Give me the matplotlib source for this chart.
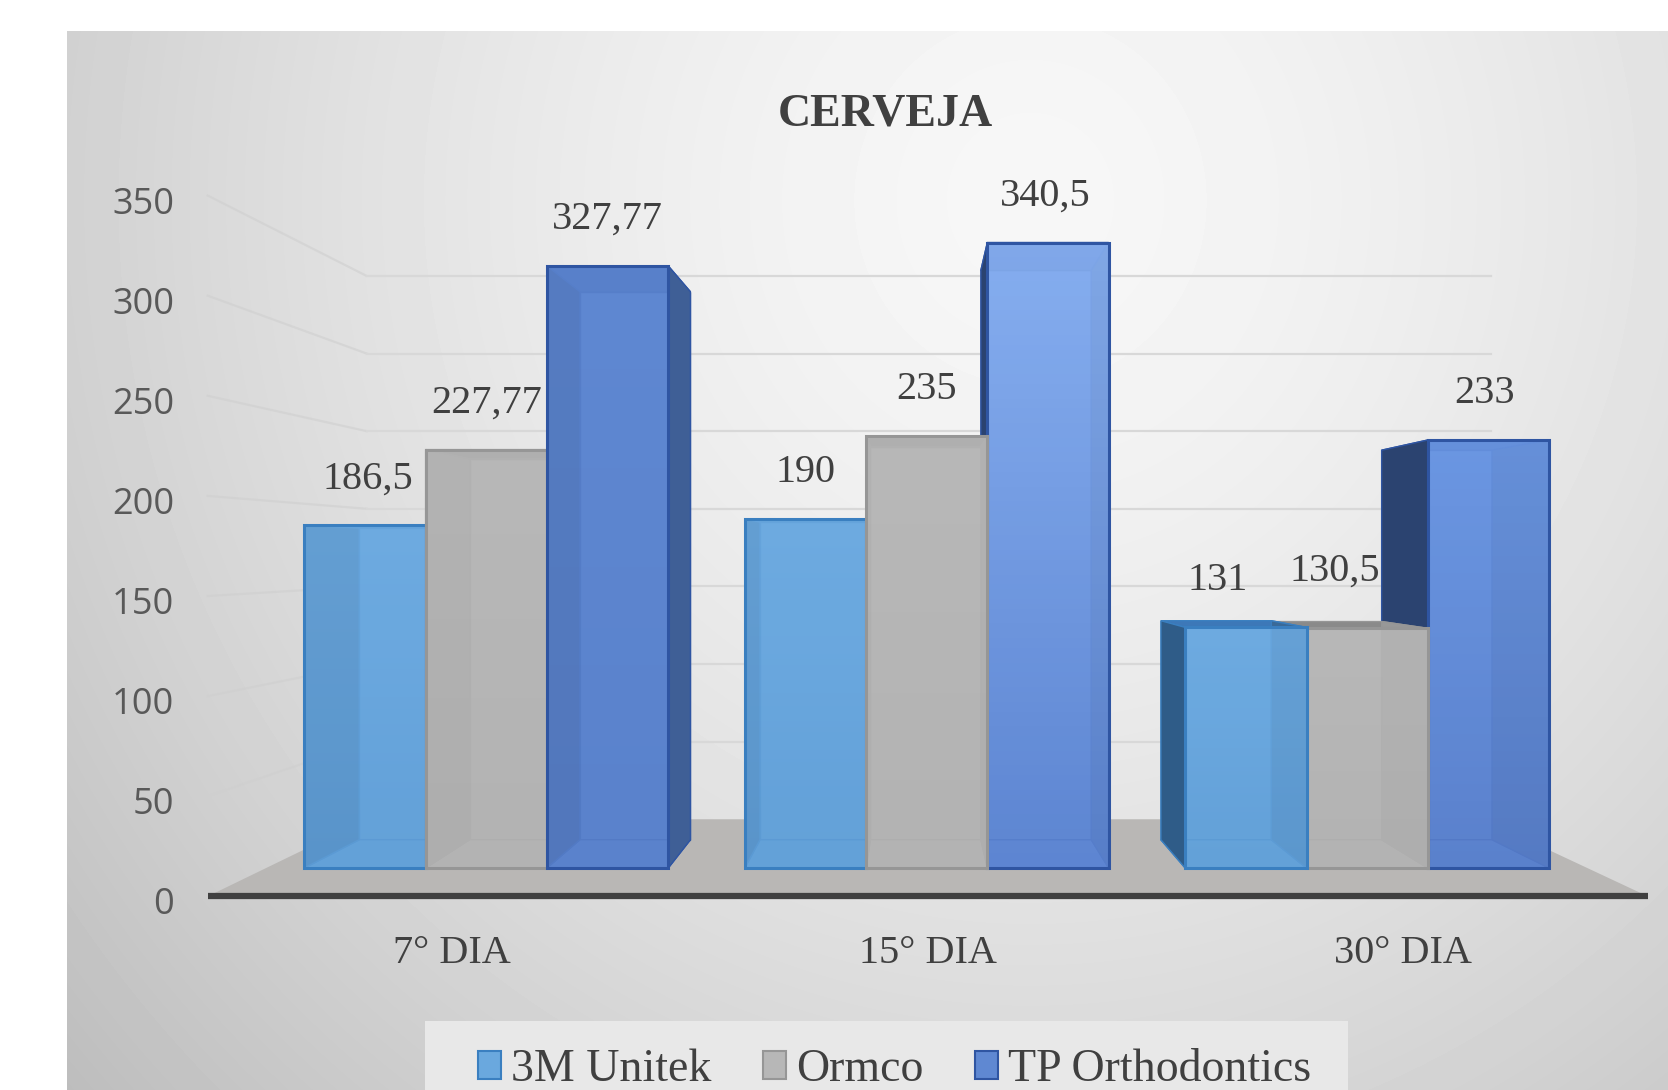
import matplotlib
matplotlib.use('Agg')
import numpy as np
import matplotlib.pyplot as plt
from matplotlib.colors import LinearSegmentedColormap
from matplotlib.patches import Patch, Polygon, Rectangle

# data
categories = ['7° DIA', '15° DIA', '30° DIA']
series = ['3M Unitek', 'Ormco', 'TP Orthodontics']
unitek = [186.5, 190, 131]
ormco = [227.77, 235, 130.5]
tp = [327.77, 340.5, 233]
unitek_labels = ['186,5', '190', '131']
ormco_labels = ['227,77', '235', '130,5']
tp_labels = ['327,77', '340,5', '233']
yticks = [0, 50, 100, 150, 200, 250, 300, 350]

SERIF = 'Liberation Serif'
SANS = 'Open Sans'

# cores: frente, borda, lados, topo
front_c = ['#6AA8DE', '#B7B7B7', '#5F88D2']
edge_c = ['#3A7FC0', '#969696', '#2F55A2']
right_c = ['#3A6A98', '#989898', '#3F5F96']
left_c = ['#2F5C88', '#9A9A9A', '#2B4370']
top_c = ['#3D78B8', '#8A8A8A', '#3E62AC']
# degrade da frente (topo, base) por barra
grad_c = {
    0: [('#6FACE2', '#62A0D8')] * 3,
    1: [('#B8B8B8', '#B3B3B3')] * 3,
    2: [('#5F88D2', '#5A82CC'), ('#8EB6F6', '#5D85D2'), ('#6E9AE6', '#5A80CC')],
}

W, H = 1668, 1090
fig = plt.figure(figsize=(W / 100, H / 100), dpi=100, facecolor='white')

# fundo com degrade radial
bg_ax = fig.add_axes([0, 0, 1, 1])
bg_ax.axis('off')
xx, yy = np.meshgrid(np.arange(67, W), np.arange(31, H))
dist = np.sqrt(((xx - 1030) / 1000.0) ** 2 + ((yy - 200) / 1050.0) ** 2)
shade = np.clip(247 - 40 * dist ** 1.5, 0, 255)
bg_ax.imshow(shade, cmap='gray', vmin=0, vmax=255, extent=(67, W, H, 31), aspect='auto')
bg_ax.set_xlim(0, W)
bg_ax.set_ylim(H, 0)

# eixo principal: plano da frente das barras
ax = fig.add_axes([0, 0, 1, 1])
ax.patch.set_alpha(0)
ax.axis('off')

# perspectiva: ponto de fuga em coordenadas de dados
XV, YV = 0.973, 171.4
S_BACK = 0.91     # fundo da barra
S_WALL = 0.845    # parede do grafico
S_FRONT = 1.09    # borda da frente do piso
BAR_W = 0.2754


def project(x, v, s):
    return XV + (x - XV) * s, YV + (v - YV) * s


# piso
fl = [project(-0.5, 0, S_FRONT), project(2.5, 0, S_FRONT), project(2.5, 0, S_WALL), project(-0.5, 0, S_WALL)]
ax.add_patch(Polygon(fl, closed=True, facecolor='#B9B7B5', edgecolor='none', zorder=1))
x0, y0 = project(-0.5, 0, S_FRONT)
x1, y1 = project(2.5, 0, S_FRONT)
ax.plot([x0, x1], [y0, y1], color='#404040', lw=4.5, solid_capstyle='butt', zorder=2)

# grade
for v in yticks[1:]:
    side = [project(-0.5, v, S_FRONT), project(-0.5, v, S_WALL)]
    wall = [project(-0.5, v, S_WALL), project(2.52, v, S_WALL)]
    ax.plot([p[0] for p in side], [p[1] for p in side], color='#CFCFCF', lw=1.6, alpha=0.6, zorder=1)
    ax.plot([p[0] for p in wall], [p[1] for p in wall], color='#D8D8D8', lw=1.6, zorder=1)

for v in yticks:
    px, py = project(-0.5, v, S_FRONT)
    ax.annotate(str(v), (px, py), xytext=(-24, -6.5), textcoords='offset points', ha='right', va='center',
                fontsize=26, family=SANS, color='#595959')


def draw_bar(x, v, i, j, z):
    l, r = x - BAR_W / 2, x + BAR_W / 2
    f = [(l, 0), (r, 0), (r, v), (l, v)]
    b = [project(px, py, S_BACK) for px, py in f]
    ec = edge_c[j]
    faces = [
        (b, front_c[j]),
        ([f[0], f[1], b[1], b[0]], front_c[j]),
        ([f[3], f[2], b[2], b[3]], top_c[j]),
        ([f[0], b[0], b[3], f[3]], left_c[j]),
        ([f[1], b[1], b[2], f[2]], right_c[j]),
    ]
    for pts, c in faces:
        ax.add_patch(Polygon(pts, closed=True, facecolor=c, edgecolor=ec, lw=1.0, zorder=z))
    cm = LinearSegmentedColormap.from_list('bar', [grad_c[j][i][1], grad_c[j][i][0]])
    ax.imshow(np.linspace(0, 1, 128).reshape(-1, 1), cmap=cm, extent=(l, r, 0, v), origin='lower',
              aspect='auto', alpha=0.84, zorder=z)
    ax.add_patch(Polygon(f, closed=True, facecolor='none', edgecolor=ec, lw=2.2, zorder=z))


# rotulo ajuste em pontos (dx, dy)
label_nudge = {(0, 0): (2, 0), (2, 0): (-20, 0), (2, 1): (-23, 8), (2, 2): (-3, 0), (1, 2): (-2, 0)}

values = [unitek, ormco, tp]
labels = [unitek_labels, ormco_labels, tp_labels]
for i in range(len(categories)):
    xs = [i + (j - 1) * BAR_W for j in range(3)]
    # mais longe do ponto de fuga primeiro
    order = sorted(range(3), key=lambda j: -abs(xs[j] - XV))
    for n, j in enumerate(order):
        draw_bar(xs[j], values[j][i], i, j, 4 + i * 3 + n)
        dx, dy = label_nudge.get((i, j), (0, 0))
        ax.annotate(labels[j][i], (xs[j], values[j][i]), xytext=(dx, 33.5 + dy), textcoords='offset points',
                    ha='center', va='center', fontsize=29, family=SERIF, color='#404040', zorder=3)

# categorias
for i, c in enumerate(categories):
    px = XV + (i - XV) * 1.08
    py = project(i, 0, S_FRONT)[1]
    ax.annotate(c, (px, py), xytext=(0, -41), textcoords='offset points', ha='center', va='center',
                fontsize=29, family=SERIF, color='#404040')

ax.set_xlim(-1.104, 2.683)
ax.set_ylim(-120.8, 472.5)

fig.text(885 / W, 1 - 114 / H, 'CERVEJA', ha='center', va='center', fontsize=33, family=SERIF,
         weight='bold', color='#404040')

# caixa da legenda
fig.patches.append(Rectangle((425 / W, 0), 923 / W, 69 / H, transform=fig.transFigure, facecolor='#E8E8E8',
                             edgecolor='none', zorder=0))

handles = [Patch(facecolor=front_c[j], edgecolor=edge_c[j], lw=1.5, label=series[j]) for j in range(3)]
leg = fig.legend(handles=handles, ncol=3, loc='lower left', bbox_to_anchor=(453 / W, -0.024),
                 prop={'family': SERIF, 'size': 33}, frameon=False, handlelength=0.5, handleheight=0.55,
                 handletextpad=0.22, columnspacing=1.12, borderpad=0.55, borderaxespad=0)
for t in leg.get_texts():
    t.set_color('#404040')

plt.savefig('out.png', dpi=100)
